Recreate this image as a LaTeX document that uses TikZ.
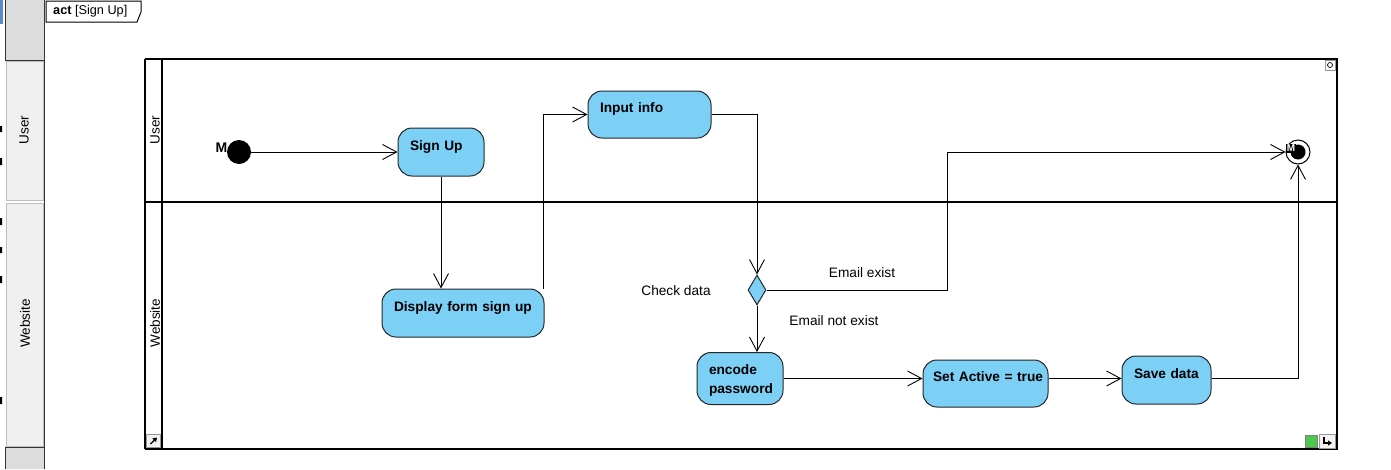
\documentclass[tikz,border=0pt]{standalone}
\usepackage{fontspec}
\setmainfont{Liberation Sans}
\usetikzlibrary{arrows.meta, shapes.geometric}
\definecolor{actfill}{RGB}{124,208,245}
\definecolor{panel}{RGB}{240,240,240}
\definecolor{paneldark}{RGB}{220,220,220}
\definecolor{tabedge}{RGB}{190,190,190}
\definecolor{edgeblue}{RGB}{90,140,205}

\begin{document}
\begin{tikzpicture}[x=1pt, y=-1pt,
	flow/.style={-{Straight Barb[length=14pt,width=15pt]}, line width=0.9pt},
	actbox/.style={draw=black!85, fill=actfill, rounded corners=14pt, line width=1pt, align=left, inner xsep=12pt, inner ysep=2pt, font=\fontsize{13.7}{18.5}\selectfont\bfseries, text height=10pt, text depth=14pt},
	lbl/.style={font=\fontsize{13.7}{16}\selectfont, inner sep=0pt},
	lane/.style={font=\fontsize{13.5}{16}\selectfont, rotate=90, inner sep=0pt},
	thk/.style={line width=2pt}]
			\useasboundingbox (0,0) rectangle (1391,469);
			\fill[white] (0,0) rectangle (1391,469);
			
			% side panel
			\fill[paneldark] (5,0) rectangle (45,60);
			\fill[paneldark] (5,447) rectangle (45,469);
			\filldraw[fill=panel, draw=tabedge] (6.5,61.5) rectangle (43.5,200.5);
			\filldraw[fill=panel, draw=tabedge] (6.5,203.5) rectangle (43.5,446);
			\draw[black!80] (5.5,0) -- (5.5,60) -- (44.5,60);
			\draw[black!80] (5.5,469) -- (5.5,447) -- (44.5,447);
			\draw[black!80] (44.5,0) -- (44.5,469);
			\fill[edgeblue] (0,0) rectangle (2.5,24);
			\fill (0,126) rectangle (2,132) (0,158) rectangle (2,165) (0,218) rectangle (2,225)
				(0,247) rectangle (2,253) (0,276) rectangle (2,283) (0,397) rectangle (2,404);
			\node[lane] (usert) at (24,130) {User};
			\node[lane] (webt) at (25,323.5) {Website};
			
			% frame tab
			\filldraw[fill=white, line width=1pt] (46,22) -- (46,1) -- (141,1) -- (141,12) -- (137,22) -- cycle;
			\node[anchor=west, inner sep=0pt, font=\fontsize{12.7}{14}\selectfont] (tab) at (53,11) {\textbf{act} [Sign Up]};
			
			% pool and lanes
			\draw[thk] (145,59) -- (1337,59) -- (1337,449) -- (145,449);
			\draw[line width=1.2pt] (145,59) -- (145,449);
			\draw[thk] (162,59) -- (162,449);
			\draw[thk] (145,202) -- (1337,202);
			\node[lane] (userl) at (155,130) {User};
			\node[lane] (webl) at (155,323) {Website};
			
			% corner icons
			\filldraw[fill=white, draw=black!40] (1325.5,60.5) rectangle (1335.5,70.5);
			\draw[line width=0.7pt] (1330,65) circle[radius=2.5pt];
			\filldraw[fill=black!5, draw=black!40] (146.5,434.5) rectangle (160.5,447.5);
			\draw[-{Triangle[length=4pt,width=5pt]}, line width=1.3pt] (150.5,444) -- (157,437.5);
			\filldraw[fill=green!70!black!70, draw=black!50] (1305.5,435.5) rectangle (1317.5,447.5);
			\filldraw[fill=black!5, draw=black!40] (1319.5,434.5) rectangle (1335.5,448.5);
			\draw[-{Triangle[length=4pt,width=5pt]}, line width=1.2pt] (1324,437) -- (1324,443) -- (1332,443);
			
			% nodes
			\node[circle, fill=black, minimum size=24pt, inner sep=0pt] (init) at (239,152) {};
			\node[inner sep=0pt, font=\fontsize{14}{14}\selectfont\bfseries] (initm) at (221.5,148) {M};
			\node[actbox, text width=62pt, minimum height=48] (su) at (441,152) {Sign Up};
			\node[actbox, text width=99pt, minimum height=47] (inp) at (649.5,114.5) {Input info};
			\node[actbox, text width=138pt, minimum height=48] (disp) at (463,313) {Display form sign up};
			\node[diamond, draw=black!85, fill=actfill, line width=1pt, minimum width=18pt, minimum height=30pt, inner sep=0pt] (chk) at (757,290) {};
			\node[actbox, text width=62pt, minimum height=52, text height=8pt, text depth=16pt] (enc) at (740,378.5) {encode\\password};
			\node[actbox, text width=105pt, inner xsep=10pt, minimum height=47] (act) at (985.5,383.5) {\mbox{Set Active = true}};
			\node[actbox, text width=65pt, minimum height=48] (sav) at (1166.5,380) {Save data};
			\node[circle, draw, fill=white, line width=1pt, minimum size=24pt, inner sep=0pt] (fin) at (1298,152) {};
			\node[circle, fill=black, minimum size=15pt, inner sep=0pt] (fin0) at (fin) {};
			\node[fill=black, text=white, inner sep=0.8pt, font=\fontsize{10}{10}\selectfont\bfseries] (finm) at (1291,148.5) {M};
			\coordinate (c1) at (947,152);
			
			\node[lbl] (chkl) at (676,291) {Check data};
			\node[lbl] (yes) at (862,273) {Email exist};
			\node[lbl] (no) at (834,321) {Email not exist};
			
			% flows
			\draw[flow] (init.east) -- (su.west);
			\draw[flow] (su.south) -- (su.south |- disp.north);
			\draw[flow] (disp.17) |- (inp.west);
			\draw[flow] (inp.east) -| (chk.north);
			\draw[flow] (chk.east) -| (c1) -- (fin.west);
			\draw[flow] (chk.south) -- (chk.south |- enc.north);
			\draw[flow] (enc.east) -- (enc.east -| act.west);
			\draw[flow] (enc.east -| act.east) -- (enc.east -| sav.west);
			\draw[flow] (enc.east -| sav.east) -| (fin.south);
		\end{tikzpicture}
\end{document}
